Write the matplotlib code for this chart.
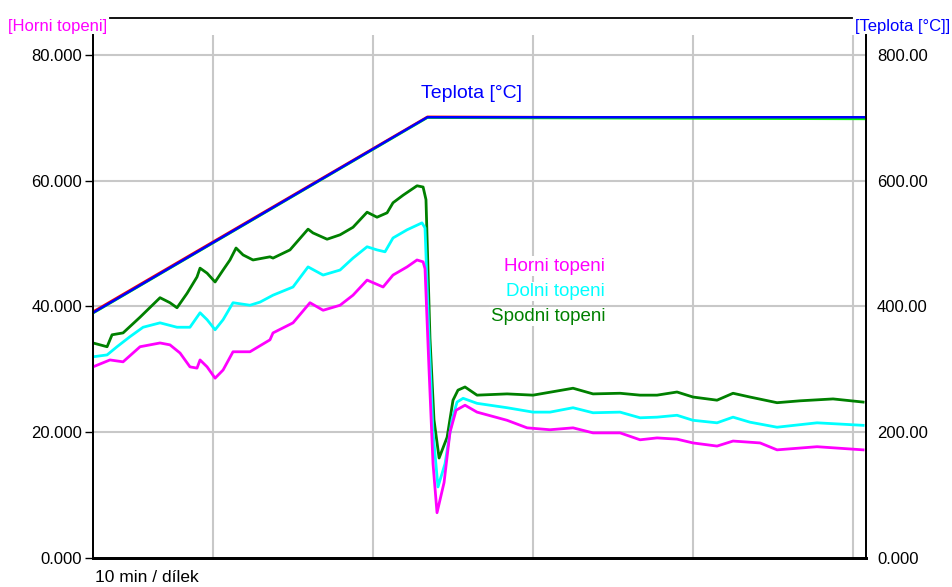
import matplotlib
matplotlib.use("Agg")
import matplotlib.pyplot as plt
from matplotlib.lines import Line2D

plt.rcParams['font.family'] = ['Liberation Sans', 'DejaVu Sans']

# cas v minutach (10 min / dilek)
t_spodni = [2.5, 3.38, 3.69, 4.38, 5.44, 6.69, 7.31, 7.75, 8.38, 9.0, 9.19, 9.63, 10.13, 10.63,
            11.06, 11.44, 11.88, 12.5, 13.56, 13.75, 14.81, 15.94, 16.25, 17.13, 17.94, 18.75,
            19.63, 20.25, 20.88, 21.25, 21.88, 22.75, 23.13, 23.31, 23.56, 23.81, 24.13, 24.63,
            25.0, 25.31, 25.75, 26.5, 28.38, 30.0, 32.5, 33.75, 35.44, 36.69, 37.75, 39.0, 40.0,
            41.5, 42.5, 43.56, 45.25, 46.69, 48.75, 50.63]
spodni = [34.2, 33.6, 35.5, 35.8, 38.3, 41.4, 40.6, 39.8, 42.1, 44.7, 46.1, 45.3, 43.9, 45.8,
          47.4, 49.3, 48.2, 47.4, 47.9, 47.7, 49.0, 52.3, 51.7, 50.7, 51.4, 52.6,
          55.0, 54.2, 54.9, 56.5, 57.7, 59.2, 59.0, 57.0, 35.0, 22.0, 15.9, 19.2,
          25.1, 26.7, 27.2, 25.9, 26.1, 25.9, 27.0, 26.1, 26.2, 25.9, 25.9, 26.4, 25.6,
          25.1, 26.2, 25.6, 24.7, 25.0, 25.3, 24.8]

t_dolni = [2.5, 3.38, 4.0, 4.81, 5.63, 6.69, 7.75, 8.56, 9.19, 9.63, 10.13, 10.63, 11.25, 12.31,
           12.94, 13.75, 15.0, 15.94, 16.88, 17.94, 18.75, 19.63, 20.25, 20.75, 21.25, 22.13,
           23.06, 23.25, 23.5, 23.75, 24.06, 24.5, 24.94, 25.25, 25.63, 26.5, 28.38, 30.0, 31.06,
           32.5, 33.75, 35.44, 36.69, 37.75, 39.0, 40.0, 41.5, 42.5, 43.56, 45.25, 47.75, 50.63]
dolni = [32.0, 32.3, 33.6, 35.2, 36.7, 37.4, 36.7, 36.7, 39.0, 37.9, 36.3, 37.9, 40.6, 40.2,
         40.7, 41.8, 43.1, 46.3, 45.0, 45.8, 47.7, 49.5, 49.0, 48.7, 50.9, 52.2,
         53.3, 52.5, 35.0, 20.0, 11.3, 15.0, 22.0, 24.8, 25.4, 24.6, 23.9, 23.2, 23.2,
         23.9, 23.1, 23.2, 22.3, 22.4, 22.7, 21.9, 21.5, 22.4, 21.6, 20.8, 21.5, 21.1]

t_horni = [2.5, 3.56, 4.38, 5.44, 6.69, 7.31, 7.94, 8.56, 9.0, 9.19, 9.63, 10.13, 10.63, 11.25,
           12.31, 13.56, 13.75, 15.0, 16.06, 16.88, 17.94, 18.75, 19.63, 20.63, 21.25, 22.13,
           22.75, 23.13, 23.25, 23.5, 23.75, 24.0, 24.44, 24.81, 25.19, 25.75, 26.5, 28.38,
           29.63, 31.06, 32.5, 33.75, 35.44, 36.69, 37.75, 39.0, 40.0, 41.5, 42.5, 44.19,
           45.25, 47.75, 50.63]
horni = [30.4, 31.5, 31.2, 33.6, 34.2, 33.9, 32.6, 30.4, 30.2, 31.5, 30.4, 28.6, 29.9, 32.8,
         32.8, 34.7, 35.8, 37.4, 40.6, 39.4, 40.2, 41.8, 44.2, 43.1, 45.0, 46.3,
         47.4, 47.1, 46.0, 30.0, 15.0, 7.2, 12.0, 20.0, 23.5, 24.3, 23.2, 21.9,
         20.7, 20.4, 20.7, 19.9, 19.9, 18.8, 19.1, 18.9, 18.3, 17.8, 18.6, 18.3,
         17.2, 17.7, 17.2]

# teplota - tri kanaly (cervena, zelena, modra)
t_teplota = [2.5, 23.4, 50.8]
teplota_r = [392, 702, 700]
teplota_g = [389, 700, 698]
teplota_b = [390, 701, 701]

left_ticks = [0, 20, 40, 60, 80]
left_labels = ['0.000', '20.000', '40.000', '60.000', '80.000']
right_ticks = [0, 200, 400, 600, 800]
right_labels = ['0.000', '200.00', '400.00', '600.00', '800.00']
grid_t = [10, 20, 30, 40, 50]

fig = plt.figure(figsize=(9.52, 5.87), dpi=100)
ax = fig.add_axes([93 / 952, 1 - 558 / 587, (866 - 93) / 952, (558 - 35) / 587])
ax2 = ax.twinx()

ax.set_xlim(2.5, 50.81)
ax.set_ylim(0, 83.18)
ax2.set_ylim(0, 831.8)

for g in grid_t:
    ax.axvline(g, color='#c8c8c8', lw=1.5, zorder=0)
for g in left_ticks[1:]:
    ax.axhline(g, color='#c8c8c8', lw=1.5, zorder=0)

ax.plot(t_horni, horni, color='#ff00ff', lw=2, zorder=3)
ax.plot(t_dolni, dolni, color='#00ffff', lw=2, zorder=2)
ax.plot(t_spodni, spodni, color='#008000', lw=2, zorder=1)

ax2.plot(t_teplota, teplota_r, color='#ff0000', lw=1.5)
ax2.plot(t_teplota, teplota_g, color='#00ff00', lw=1.5)
ax2.plot(t_teplota, teplota_b, color='#0000ff', lw=1.8)

ax.set_xticks([])
ax.set_yticks(left_ticks)
ax.set_yticklabels(left_labels)
ax.tick_params(axis='y', direction='out', length=6, width=1, labelsize=12, pad=2)
ax2.set_yticks(right_ticks)
ax2.set_yticklabels(right_labels)
ax2.tick_params(axis='y', length=0, labelsize=12, pad=8)

for a in (ax, ax2):
    a.spines['top'].set_visible(False)
    a.spines['left'].set_linewidth(1.3)
    a.spines['right'].set_linewidth(1.3)
    a.spines['bottom'].set_linewidth(2)
    a.set_facecolor('none')

# horni ramecek
fig.add_artist(Line2D([110 / 952, 852 / 952], [1 - 18 / 587, 1 - 18 / 587], color='black', lw=1.3))

fig.text(8 / 952, 1 - 26 / 587, '[Horni topeni]', color='#ff00ff', fontsize=12, va='center', ha='left')
fig.text(950 / 952, 1 - 26 / 587, '[Teplota [°C]]', color='#0000ff', fontsize=12, va='center', ha='right')
fig.text(95 / 952, 1 - 578 / 587, '10 min / dílek', color='black', fontsize=12.5, va='center', ha='left')

ax.text(23.0, 73.8, 'Teplota [°C]', color='#0000ff', fontsize=14, ha='left', va='center')

box = dict(facecolor='white', edgecolor='none', pad=1)
ax.text(34.5, 46.4, 'Horni topeni', color='#ff00ff', fontsize=13.5, ha='right', va='center', bbox=box, zorder=5)
ax.text(34.5, 42.4, 'Dolni topeni', color='#00ffff', fontsize=13.5, ha='right', va='center', bbox=box, zorder=5)
ax.text(34.5, 38.4, 'Spodni topeni', color='#008000', fontsize=13.5, ha='right', va='center', bbox=box, zorder=5)

fig.savefig('out.png', dpi=100)
